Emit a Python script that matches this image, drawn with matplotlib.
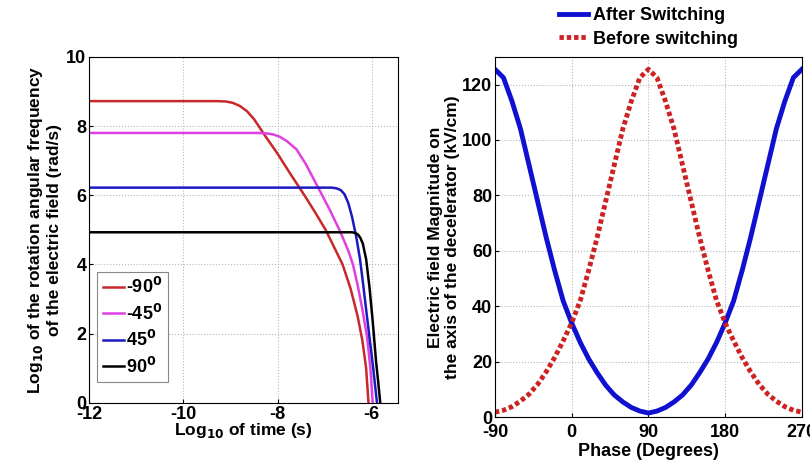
import matplotlib
matplotlib.use("Agg")
import matplotlib.pyplot as plt

plt.rcParams['font.family'] = ['Liberation Sans', 'DejaVu Sans']
plt.rcParams['font.weight'] = 'bold'
plt.rcParams['mathtext.default'] = 'bf'
plt.rcParams['axes.unicode_minus'] = False

# ---- left panel data (log10 time vs log10 angular frequency) ----
labels_left = ['-90$^0$', '-45$^0$', '45$^0$', '90$^0$']
red_x = [-12, -9.3, -9.1, -8.95, -8.8, -8.65, -8.5, -8.28, -8.0, -7.72, -7.43, -7.2, -6.98, -6.8, -6.62, -6.45, -6.3, -6.2, -6.12, -6.07]
red_y = [8.72, 8.72, 8.71, 8.67, 8.58, 8.43, 8.2, 7.75, 7.2, 6.6, 6.0, 5.5, 5.0, 4.5, 4.0, 3.3, 2.5, 1.8, 1.0, 0.0]
mag_x = [-12, -8.45, -8.25, -8.1, -7.95, -7.8, -7.6, -7.4, -7.13, -6.9, -6.67, -6.5, -6.4, -6.3, -6.2, -6.1, -6.03, -5.98]
mag_y = [7.8, 7.8, 7.79, 7.76, 7.69, 7.56, 7.33, 6.9, 6.2, 5.6, 4.95, 4.4, 4.0, 3.4, 2.7, 1.9, 1.0, 0.0]
blu_x = [-12, -6.85, -6.75, -6.66, -6.58, -6.5, -6.42, -6.33, -6.25, -6.19, -6.12, -6.05, -5.97, -5.89]
blu_y = [6.22, 6.22, 6.2, 6.15, 6.03, 5.78, 5.38, 4.8, 4.15, 3.5, 2.7, 1.9, 1.0, 0.0]
blk_x = [-12, -6.42, -6.35, -6.29, -6.24, -6.19, -6.12, -6.05, -5.98, -5.91, -5.86, -5.82]
blk_y = [4.93, 4.93, 4.91, 4.86, 4.76, 4.6, 4.15, 3.35, 2.35, 1.2, 0.55, 0.0]

# ---- right panel data (phase vs electric field) ----
phase = [-90, -80, -70, -60, -50, -40, -30, -20, -10, 0, 10, 20, 30, 40, 50, 60, 70, 80, 90,
         100, 110, 120, 130, 140, 150, 160, 170, 180, 190, 200, 210, 220, 230, 240, 250, 260, 270]
after = [125.5, 122.5, 114, 104, 91, 78, 65, 53, 42, 34, 27, 21, 16, 11.5, 8, 5.5, 3.5, 2.2, 1.5,
         2.2, 3.5, 5.5, 8, 11.5, 16, 21, 27, 34, 42, 53, 65, 78, 91, 104, 114, 122.5, 125.5]
before = [1.8, 2.5, 3.8, 5.8, 8.3, 11.8, 16.3, 21.5, 27.5, 34, 42, 53, 65, 78, 91, 104, 114, 122.5, 125.5,
          122.5, 114, 104, 91, 78, 65, 53, 42, 34, 27.5, 21.5, 16.3, 11.8, 8.3, 5.8, 3.8, 2.5, 1.8]

FS = 13
LFS = 12.5

fig = plt.figure(figsize=(8.1, 4.62), dpi=100)

ax1 = fig.add_axes([0.110, 0.128, 0.381, 0.749])
ax1.plot(red_x, red_y, color='#c8282a', lw=1.8, label=labels_left[0])
ax1.plot(mag_x, mag_y, color='#e040e0', lw=1.8, label=labels_left[1])
ax1.plot(blu_x, blu_y, color='#1a1ac0', lw=1.8, label=labels_left[2])
ax1.plot(blk_x, blk_y, color='black', lw=1.8, label=labels_left[3])
ax1.set_xlim(-12, -5.45)
ax1.set_ylim(0, 10)
ax1.set_xticks([-12, -10, -8, -6])
ax1.set_yticks([0, 2, 4, 6, 8, 10])
ax1.grid(True, linestyle=':', color='#b8b8b8', lw=0.8)
ax1.tick_params(labelsize=FS, length=3, direction='in', pad=2)
ax1.set_xlabel('Log$_{10}$ of time (s)', fontsize=LFS, fontweight='bold', labelpad=-1)
ax1.set_ylabel('Log$_{10}$ of the rotation angular frequency\nof the electric field (rad/s)',
               fontsize=LFS, fontweight='bold', labelpad=3)
leg1 = ax1.legend(loc='lower left', bbox_to_anchor=(0.015, 0.05), fontsize=FS, handlelength=1.2,
                  handletextpad=0.1, borderpad=0.3, labelspacing=0.35, borderaxespad=0.2,
                  fancybox=False, edgecolor='#888888', framealpha=1)
leg1.get_frame().set_linewidth(0.8)

ax2 = fig.add_axes([0.611, 0.097, 0.379, 0.780])
ax2.plot(phase, after, color='#1010d0', lw=3.5, label='After Switching')
ax2.plot(phase, before, color='#cc2222', lw=3.5, linestyle=(0, (0.9, 0.6)), label='Before switching')
ax2.set_xlim(-90, 270)
ax2.set_ylim(0, 130)
ax2.set_xticks([-90, 0, 90, 180, 270])
ax2.set_yticks([0, 20, 40, 60, 80, 100, 120])
ax2.grid(True, linestyle=':', color='#b8b8b8', lw=0.8)
ax2.tick_params(labelsize=FS, length=3, direction='in', pad=2)
ax2.tick_params(axis='x', pad=5)
ax2.set_xlabel('Phase (Degrees)', fontsize=LFS + 0.5, fontweight='bold', labelpad=1)
ax2.set_ylabel('Electric field Magnitude on\nthe axis of the decelerator (kV/cm)',
               fontsize=LFS, fontweight='bold', labelpad=1)
leg2 = ax2.legend(loc='lower center', bbox_to_anchor=(0.5, 1.0), fontsize=FS, frameon=False,
                  handlelength=1.6, handletextpad=0.3, labelspacing=0.35, borderpad=0.0)

fig.savefig('out.png', dpi=100)
